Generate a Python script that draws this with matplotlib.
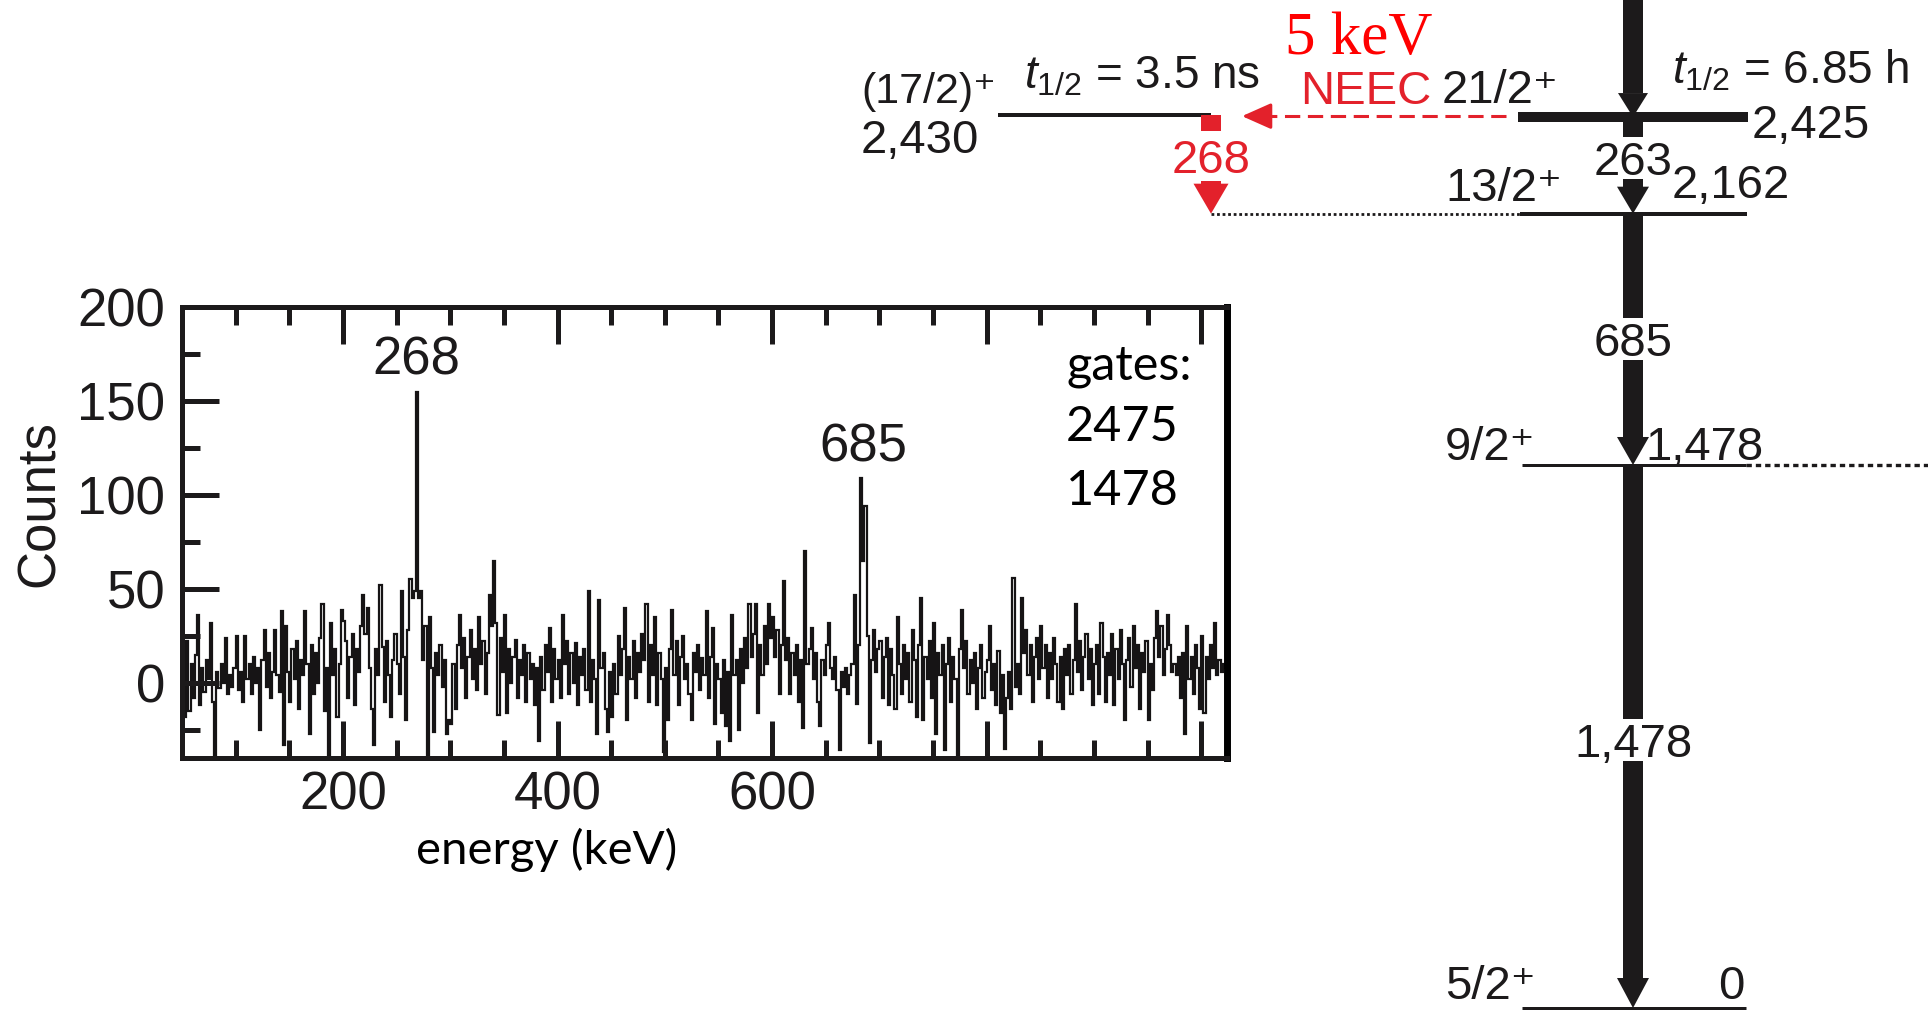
import matplotlib
matplotlib.use("Agg")
import matplotlib.pyplot as plt
import numpy as np
from matplotlib.ticker import MultipleLocator, FixedLocator, FuncFormatter

plt.rcParams['font.family'] = ['Liberation Sans', 'DejaVu Sans']
plt.rcParams['mathtext.fontset'] = 'custom'
plt.rcParams['mathtext.rm'] = 'Liberation Sans'
plt.rcParams['mathtext.it'] = 'Liberation Sans:italic'
plt.rcParams['mathtext.sf'] = 'Liberation Sans'

# ---- gated spectrum (2 keV bins starting at 50 keV) ----
e_start = 50
bin_width = 2
counts = [
    5, -18, 22, -15, 10, -8, 15, 36, -12, 8, -5, 12, 2, 32, -10, -40, 6, -3, 10, 0, 24, -6, 4, -2, 8,          # 50-100
    25, -4, 6, -10, 25, 2, 10, -6, 14, 0, 8, -25, 12, 28, -2, 16, -8, 6, 28, 4, -5, 38, -33, 30, 6,            # 100-150
    -10, 18, 2, 22, -14, 12, 4, 38, 10, -27, 20, -6, 16, 0, 24, 42, -15, 8, -40, 32, 4, 18, -18, 10, 39,       # 150-200
    33, 22, -8, 14, 26, -12, 18, 6, 30, 47, 26, 40, 8, -14, -33, 18, 4, 52, 19, -10, 22, 4, -18, 12, 26,       # 200-250
    10, -6, 49, 14, -20, 28, 55, 45, 49, 155, 45, 49, 12, 30, -39, 35, 8, -26, 16, 4, 20, -2, 12, -27, -20,    # 250-300
    -22, 10, -14, 20, 36, 8, 24, -8, 14, 28, 2, 18, -4, 35, 10, 22, -6, 16, 47, 30, 65, 32, -17, 24, 6,        # 300-350
    36, -16, 18, 0, 14, 23, -8, 12, 4, 20, -10, 16, 2, 10, -12, 8, -31, 14, -4, 20, 6, 29, -10, 18, 2,         # 350-400
    12, -8, 36, 10, 22, -6, 16, 0, 21, -12, 14, 4, 18, -4, 49, -10, 12, 2, -27, 44, 8, 16, -14, -26, 6,        # 400-450
    -18, 10, -6, 25, 4, 18, 40, -20, 14, 2, 22, -8, 16, 6, 26, 12, 42, -10, 20, 4, 35, -12, 16, 2, -37,        # 450-500
    8, -20, 18, 39, 4, 22, -12, 14, 25, 2, 10, -6, -20, 16, 6, 20, -4, 13, 4, 38, -8, 14, 29, -22, 10,         # 500-550
    2, -16, 12, -23, 6, -31, 36, 4, 12, -25, 18, 0, 24, 8, 42, 14, 26, 42, -16, 20, 4, 30, 10, 42, 24,         # 550-600
    35, 14, 28, -6, 20, 54, 12, 24, -6, 16, 4, 20, -10, 12, -24, 70, 10, 18, 29, 2, 16, -10, -23, 12, 4,       # 600-650
    20, 32, 8, 2, 14, -4, -36, 6, -2, 8, -6, 4, 10, 47, -11, 20, 109, 65, 94, 25, -32, 12, 28, 6, 18,          # 650-700
    22, -8, 14, 24, -12, 18, 4, -14, 35, 10, -6, 20, 2, 16, -10, 28, 12, -18, 20, 45, -20, 14, 2, 22, -8,      # 700-750
    32, -27, 16, 4, 20, -36, 10, 24, -10, 14, 2, -40, 18, 39, 8, 22, -6, 12, 0, 16, -14, 8, 20, -8, 6,         # 750-800
    12, 30, -4, 10, -12, 17, -16, 4, -35, -8, 6, -14, 56, -2, 10, -6, 45, 16, 28, 4, 20, -10, 14, 24, 2,       # 800-850
    30, 8, 20, -8, 16, 2, 24, 10, -10, 14, -14, 18, 4, 20, -6, 12, 42, 6, 22, -4, 14, 26, 2, 18, -12,          # 850-900
    10, 20, -6, 32, 14, -10, 16, 4, 26, -12, 18, 2, 28, 10, -20, 12, 24, -2, 30, 8, 20, -14, 16, 6, 22,        # 900-950
    -20, 10, -4, 24, 38, 14, 30, 4, 18, 36, 20, 6, 10, 4, 14, -8, 16, -27, 30, 2, 14, -6, 20, 8, -14,          # 950-1000
    25, -16, 14, 2, 20, 8, 32, 4, 12, 6, 10, 8,                                                                 # 1000-1024
]
peak_energy = [268, 685]
peak_top = [155, 109]
gates = ['2475', '1478']

# ---- level scheme ----
level_energy = [2430, 2425, 2162, 1478, 0]
level_spin = ['(17/2)\u207a', '21/2\u207a', '13/2\u207a', '9/2\u207a', '5/2\u207a']
level_name = ['2,430', '2,425', '2,162', '1,478', '0']
half_life = {2430: '3.5 ns', 2425: '6.85 h'}
gamma_from = [2425, 2162, 1478]
gamma_to = [2162, 1478, 0]
gamma_label = ['263', '685', '1,478']
neec_from, neec_to, neec_label = 2425, 2430, 'NEEC'
iso_gamma = (2430, 2162, '268')
resonance = '5 keV'

ink = '#1c1a1b'
red = '#e3212b'

fig = plt.figure(figsize=(19.28, 10.10), dpi=100)

# level scheme drawn on a figure-wide axes: x in pixels (layout), y in keV
PX0 = 1008.0      # pixel row of 0 keV
PXK = 0.3674      # pixels per keV
lv = fig.add_axes([0, 0, 1, 1])
lv.set_xlim(0, 1928)
lv.set_ylim((PX0 - 1010) / PXK, PX0 / PXK)
lv.axis('off')


def px(n):
    return n / PXK


# level layout: x extent and thickness in px
level_x = [(998, 1211), (1518, 1748), (1520, 1747), (1522, 1746), (1522, 1746)]
level_w = [4, 10, 4, 3, 3]
for e, (x0, x1), w in zip(level_energy, level_x, level_w):
    lv.plot([x0, x1], [e, e], color=ink, lw=w * 0.72, solid_capstyle='butt', clip_on=False)

# dotted connections
lv.plot([1211, 1520], [2162, 2162], color=ink, lw=2.0, ls=(0, (1, 1)))
lv.plot([1746, 1928], [1478, 1478], color=ink, lw=2.4, ls=(0, (1.6, 1.2)))

fs = 34
spin_fs = [31, 34, 34, 34, 34]
spin_pos = [(861, 12), (1442, 14), (1445, 13), (1445, 5), (1445, 9)]
name_pos = [(861, -38), (1752, -21), (1672, 16), (1645, 5), (1718, 9)]
for e, s, n, sf, sp, npos in zip(level_energy, level_spin, level_name, spin_fs, spin_pos, name_pos):
    lv.text(sp[0], e + px(sp[1]), s, fontsize=sf, color=ink, ha='left', va='baseline')
    lv.text(npos[0], e + px(npos[1]), n, fontsize=fs, color=ink, ha='left', va='baseline')

hl_pos = {2430: (1024, 27), 2425: (1672, 34)}
for e, t in half_life.items():
    lv.text(hl_pos[e][0], e + px(hl_pos[e][1]), r'$t_{1/2}$ = ' + t, fontsize=33,
            color=ink, ha='left', va='baseline')


def gamma(x, e_hi, e_lo, label, color, shift=0, gap=21, head_l=27, head_w=32, width=20):
    head_top = e_lo + px(head_l)
    lw = width * 0.72
    if label is None:
        lv.plot([x, x], [e_hi, head_top], color=color, lw=lw, solid_capstyle='butt')
    else:
        mid = (e_hi + e_lo) / 2 - px(shift)
        lv.plot([x, x], [e_hi, mid + px(gap)], color=color, lw=lw, solid_capstyle='butt')
        if mid - px(gap) > head_top:
            lv.plot([x, x], [mid - px(gap), head_top], color=color, lw=lw, solid_capstyle='butt')
        lv.text(x, mid, label, fontsize=fs, color=color, ha='center', va='center_baseline')
    lv.fill([x - head_w / 2, x + head_w / 2, x], [head_top, head_top, e_lo], color=color, lw=0)


col = 1633
gamma(col, 2800, 2425, None, ink, head_l=24, head_w=30)
gamma_shift = [-7, 0, 4]
gamma_head = [27, 28, 30]
for ef, et, lab, sh, hl in zip(gamma_from, gamma_to, gamma_label, gamma_shift, gamma_head):
    gamma(col, ef, et, lab, ink, shift=sh, head_l=hl)
gamma(1211, iso_gamma[0], iso_gamma[1], iso_gamma[2], red, shift=-8.5, gap=25,
      head_l=30, head_w=35)

# NEEC arrow
e_neec = (neec_from + neec_to) / 2
lv.plot([1506, 1262], [e_neec, e_neec], color=red, lw=2.2, ls=(0, (5, 2.5)))
lv.annotate('', xy=(1242, e_neec), xytext=(1266, e_neec),
            arrowprops=dict(arrowstyle='-|>,head_length=0.45,head_width=0.2', color=red,
                            lw=2.2, mutation_scale=40, shrinkA=0, shrinkB=0))
lv.text(1300, e_neec + px(12), neec_label, fontsize=fs, color=red, ha='left', va='baseline')
lv.text(1285, e_neec + px(62), resonance, fontsize=44, color='#ff0000',
        family='Liberation Serif', ha='left', va='baseline')

# ---- spectrum panel ----
ax = fig.add_axes([182 / 1928, 1 - 758 / 1010, 1045 / 1928, 451 / 1010])
ax.set_zorder(2)
edges = e_start + bin_width * np.arange(len(counts) + 1)
ax.stairs(counts, edges, color='#161415', lw=1.6)
ax.set_xlim(50, 1024)
ax.set_ylim(-40, 200)

ax.xaxis.set_major_locator(MultipleLocator(200))
ax.xaxis.set_minor_locator(MultipleLocator(50))
ax.xaxis.set_major_formatter(FuncFormatter(lambda v, p: f'{v:.0f}' if v <= 600 else ''))
ax.yaxis.set_major_locator(FixedLocator([0, 50, 100, 150, 200]))
ax.yaxis.set_minor_locator(MultipleLocator(25))

ax.tick_params(which='both', direction='in', top=True, bottom=True, left=True, right=False,
               color=ink, width=3.6, labelsize=38, labelcolor=ink)
ax.tick_params(which='major', length=26.5)
ax.tick_params(which='minor', length=13)
ax.tick_params(axis='y', pad=12)
ax.tick_params(axis='x', pad=9)
for side in ['top', 'left', 'bottom']:
    ax.spines[side].set_linewidth(3.6)
    ax.spines[side].set_color(ink)
ax.spines['right'].set_linewidth(5)
ax.spines['right'].set_color('black')

for e, top in zip(peak_energy, peak_top):
    ax.text(e, top + 9, str(e), fontsize=38, color=ink, ha='center', va='baseline')

calib = dict(fontsize=35, family='Lato', color='black', ha='left', va='baseline',
             transform=ax.transAxes)
ax.text(0.846, 0.840, 'gates:', **calib)
for i, g in enumerate(gates):
    ax.text(0.846, 0.703 - 0.142 * i, g, **calib)

fig.text(0.0205, 0.501, 'Counts', fontsize=38, color=ink, rotation=90, ha='center', va='center')
fig.text(547 / 1928, 1 - 864 / 1010, 'energy (keV)', fontsize=34, family='Lato',
         color='black', ha='center', va='baseline')

fig.savefig('out.png', dpi=100)
